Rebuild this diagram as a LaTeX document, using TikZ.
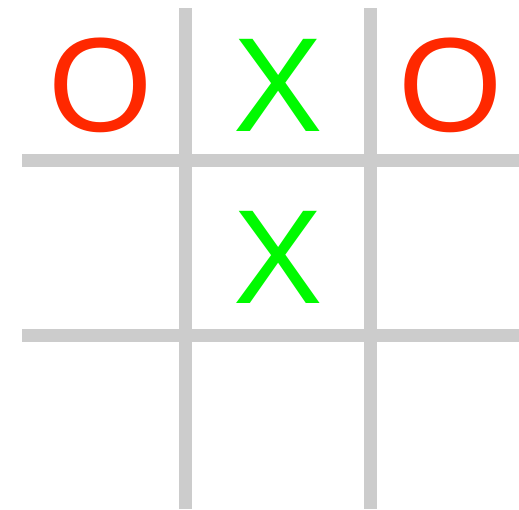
\documentclass[tikz,border=0pt]{standalone}
\usepackage{fontspec}
\setmainfont{Liberation Sans}
\usetikzlibrary{positioning}
\definecolor{gridgray}{HTML}{CCCCCC}
\definecolor{ored}{RGB}{255,40,0}
\definecolor{xgreen}{RGB}{0,250,0}

\begin{document}
\begin{tikzpicture}[x=1pt, y=-1pt,
    gridline/.style={gridgray, line width=13pt},
    movemark/.style={inner sep=0pt, anchor=base, font=\fontsize{134}{134}\selectfont},
    omark/.style={movemark, text=ored},
    xmark/.style={movemark, text=xgreen}]
    \useasboundingbox (0,0) rectangle (519,509);

    % Grid lines
    \foreach \x in {185.5,370.5} \draw[gridline] (\x,8) -- (\x,509);
    \foreach \y in {160.5,335} \draw[gridline] (22,\y) -- (519,\y);

    % Moves
    \node[omark] (o1) at (101,131) {O};
    \node[xmark] (x1) at (278,131) {X};
    \node[omark] (o2) at (451,131) {O};
    \node[xmark] (x2) at (278,303) {X};
\end{tikzpicture}
\end{document}
